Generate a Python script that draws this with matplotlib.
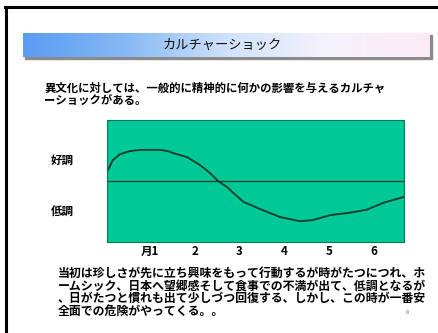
import numpy as np
import matplotlib
matplotlib.use("Agg")
import matplotlib.pyplot as plt
from matplotlib.colors import LinearSegmentedColormap
from matplotlib.patches import Rectangle

plt.rcParams['font.family'] = ['Noto Sans CJK JP', 'DejaVu Sans']

W, H = 438, 333

# curve: month position vs. mood level (0 = midline)
months = [0.04, 0.17, 0.33, 0.55, 0.78, 1.22, 1.40, 1.51, 1.83, 2.12, 2.34, 2.52,
          2.72, 3.08, 3.46, 3.90, 4.35, 4.64, 5.02, 5.46, 5.84, 6.20, 6.67]
mood = [0.15, 0.34, 0.44, 0.49, 0.51, 0.51, 0.49, 0.46, 0.39, 0.26, 0.13, 0.0,
        -0.10, -0.34, -0.46, -0.59, -0.66, -0.64, -0.56, -0.52, -0.47, -0.36, -0.26]
tick_pos = [1, 2, 3, 4, 5, 6]
tick_labels = ['月1', '2', '3', '4', '5', '6']
level_labels = ['好調', '低調']

title = 'カルチャーショック'
intro = ['異文化に対しては、一般的に精神的に何かの影響を与えるカルチャ',
         'ーショックがある。']
body = ['当初は珍しさが先に立ち興味をもって行動するが時がたつにつれ、ホ',
        'ームシック、日本へ望郷感そして食事での不満が出て、低調となるが',
        '、日がたつと慣れも出て少しづつ回復する、しかし、この時が一番安',
        '全面での危険がやってくる。。']


def box(x0, y0, x1, y1):
    # pixel box (top-left origin) -> figure rect
    return [x0 / W, 1 - y1 / H, (x1 - x0) / W, (y1 - y0) / H]


fig = plt.figure(figsize=(W / 100, H / 100), dpi=100)
fig.patch.set_facecolor('white')

# slide frame (left and top edges)
bg = fig.add_axes([0, 0, 1, 1])
bg.set_xlim(0, W)
bg.set_ylim(H, 0)
bg.axis('off')
bg.plot([6, 6], [6.5, H], color='black', lw=2.2)
bg.plot([5, W], [7, 7], color='black', lw=2.2)

# title bar with shadow
bg.add_patch(Rectangle((25, 35), 407, 24, color='#8a8a8a', zorder=1))
tb = fig.add_axes(box(23, 33, 430, 57))
cmap = LinearSegmentedColormap.from_list(
    'bar', ['#5a9cf2', '#86b8f5', '#cfe2fa', '#f5f2fc', '#fbeaf6'])
tb.imshow(np.linspace(0, 1, 256)[None, :], aspect='auto', cmap=cmap,
          extent=[0, 1, 0, 1])
tb.set_xticks([])
tb.set_yticks([])
for s in tb.spines.values():
    s.set_visible(False)
tb.text(0.49, 0.5, title, ha='center', va='center', fontsize=9.5,
        color='#111111')

for i, line in enumerate(intro):
    fig.text(44 / W, 1 - (88 + i * 12.5) / H, line, fontsize=8.2,
             fontweight='bold', va='center', ha='left')

# chart
ax = fig.add_axes(box(107, 120, 404, 242))
ax.set_facecolor('#00c896')
ax.plot(months, mood, color='#0c3b2c', lw=1.3)
ax.axhline(0, color='#0c3b2c', lw=0.9)
ax.set_xlim(0.04, 6.67)
ax.set_ylim(-1, 1)
ax.set_xticks(tick_pos)
ax.set_xticklabels(tick_labels, fontsize=8.3, fontweight='bold')
ax.tick_params(axis='x', length=0, pad=2)
ax.set_yticks([])
for s in ax.spines.values():
    s.set_color('#0a7a5a')
    s.set_linewidth(0.8)

fig.text(62 / W, 1 - 160 / H, level_labels[0], fontsize=8.3,
         fontweight='bold', ha='center', va='center')
fig.text(62 / W, 1 - 212 / H, level_labels[1], fontsize=8.3,
         fontweight='bold', ha='center', va='center')

for i, line in enumerate(body):
    fig.text(58 / W, 1 - (273 + i * 12.8) / H, line, fontsize=8.6,
             fontweight='bold', va='center', ha='left')

fig.text(407 / W, 1 - 313 / H, '8', fontsize=4, color='#777777',
         ha='center', va='center')

fig.savefig('out.png', dpi=100)
